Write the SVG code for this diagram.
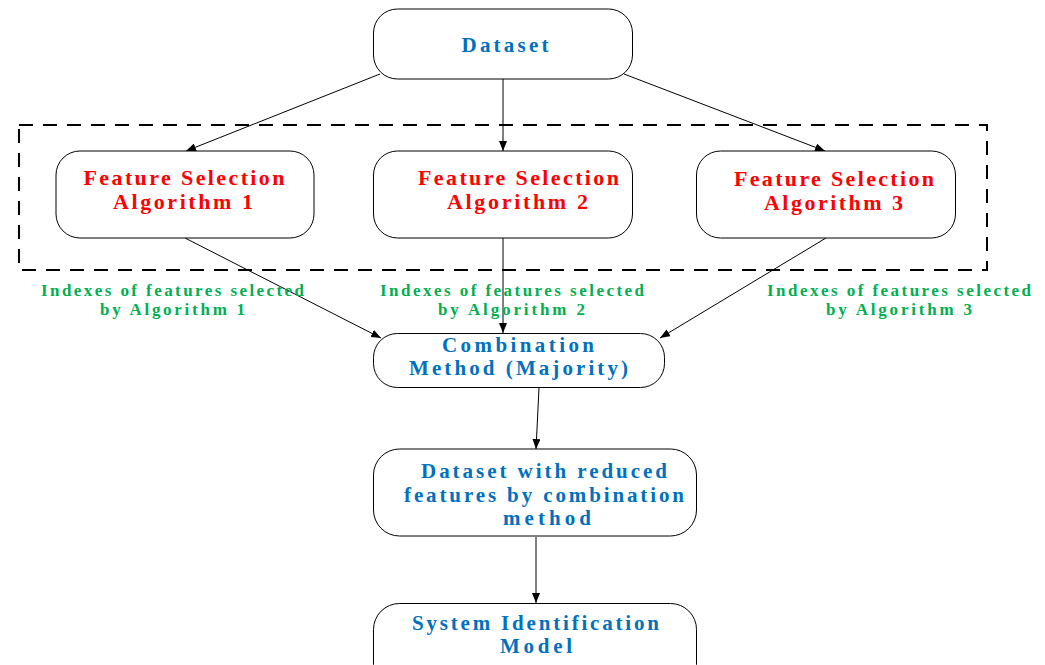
<svg xmlns="http://www.w3.org/2000/svg" width="1045" height="665" viewBox="0 0 1045 665">
<style>
.box{fill:#fff;stroke:#000;stroke-width:1}
.t{font-family:"Liberation Serif","Times New Roman",serif;font-weight:bold;text-anchor:middle}
.blue{fill:#0070C0;font-size:21px}
.red{fill:#FF0000;font-size:22px}
.green{fill:#00B050;font-size:17px}
.c{stroke:#000;stroke-width:1;fill:none;marker-end:url(#ah)}
</style>
<defs>
<marker id="ah" viewBox="0 0 10 8" refX="10" refY="4" markerWidth="10" markerHeight="8" markerUnits="userSpaceOnUse" orient="auto">
<path d="M0,0 L10,4 L0,8 Z" fill="#000"/>
</marker>
</defs>
<rect x="19" y="125" width="968" height="145" fill="none" stroke="#000" stroke-width="2" stroke-dasharray="14 10"/>
<g id="connectors">
<line class="c" x1="380" y1="74" x2="186" y2="151"/>
<line class="c" x1="503" y1="79" x2="503" y2="151"/>
<line class="c" x1="624" y1="74" x2="825" y2="151"/>
<line class="c" x1="185" y1="238" x2="381" y2="338"/>
<line class="c" x1="503" y1="238" x2="503" y2="333"/>
<line class="c" x1="826" y1="238" x2="660" y2="338"/>
<line class="c" x1="539" y1="388" x2="536" y2="449"/>
<line class="c" x1="536" y1="537" x2="536" y2="603"/>
</g>
<g id="dataset">
<rect class="box" x="373.5" y="9" width="259" height="70" rx="24"/>
<text class="t blue" x="505" y="52" textLength="87" lengthAdjust="spacing">Dataset</text>
</g>
<g id="fs1">
<rect class="box" x="56" y="151" width="258" height="87" rx="24"/>
<text class="t red" x="184" y="184.5" textLength="201" lengthAdjust="spacing">Feature Selection</text>
<text class="t red" x="183" y="208.5" textLength="140" lengthAdjust="spacing">Algorithm 1</text>
</g>
<g id="fs2">
<rect class="box" x="373.5" y="151" width="259" height="87" rx="24"/>
<text class="t red" x="518.5" y="184.5" textLength="201" lengthAdjust="spacing">Feature Selection</text>
<text class="t red" x="517.5" y="208.5" textLength="141" lengthAdjust="spacing">Algorithm 2</text>
</g>
<g id="fs3">
<rect class="box" x="696.5" y="151" width="259" height="87" rx="24"/>
<text class="t red" x="834" y="186" textLength="200" lengthAdjust="spacing">Feature Selection</text>
<text class="t red" x="833.5" y="209.5" textLength="139" lengthAdjust="spacing">Algorithm 3</text>
</g>
<g id="label1">
<text class="t green" x="172.5" y="295.5" textLength="263" lengthAdjust="spacing">Indexes of features selected</text>
<text class="t green" x="172.5" y="314.5" textLength="145" lengthAdjust="spacing">by Algorithm 1</text>
</g>
<g id="label2">
<text class="t green" x="512" y="295.5" textLength="264" lengthAdjust="spacing">Indexes of features selected</text>
<text class="t green" x="511.5" y="314.5" textLength="147" lengthAdjust="spacing">by Algorithm 2</text>
</g>
<g id="label3">
<text class="t green" x="899" y="295.5" textLength="264" lengthAdjust="spacing">Indexes of features selected</text>
<text class="t green" x="899" y="314.5" textLength="146" lengthAdjust="spacing">by Algorithm 3</text>
</g>
<g id="combination">
<rect class="box" x="373.5" y="333.5" width="291" height="54" rx="24"/>
<text class="t blue" x="518" y="351.5" textLength="152" lengthAdjust="spacing">Combination</text>
<text class="t blue" x="518.5" y="375" textLength="219" lengthAdjust="spacing">Method (Majority)</text>
</g>
<g id="reduced">
<rect class="box" x="373.5" y="449" width="323" height="87" rx="26"/>
<text class="t blue" x="544" y="477.5" textLength="246" lengthAdjust="spacing">Dataset with reduced</text>
<text class="t blue" x="544" y="501.5" textLength="280" lengthAdjust="spacing">features by combination</text>
<text class="t blue" x="547" y="525" textLength="88" lengthAdjust="spacing">method</text>
</g>
<g id="sysid">
<rect class="box" x="373.5" y="603.5" width="323" height="87" rx="26"/>
<text class="t blue" x="535.5" y="629.5" textLength="247" lengthAdjust="spacing">System Identification</text>
<text class="t blue" x="536" y="652.5" textLength="72" lengthAdjust="spacing">Model</text>
</g>
</svg>
